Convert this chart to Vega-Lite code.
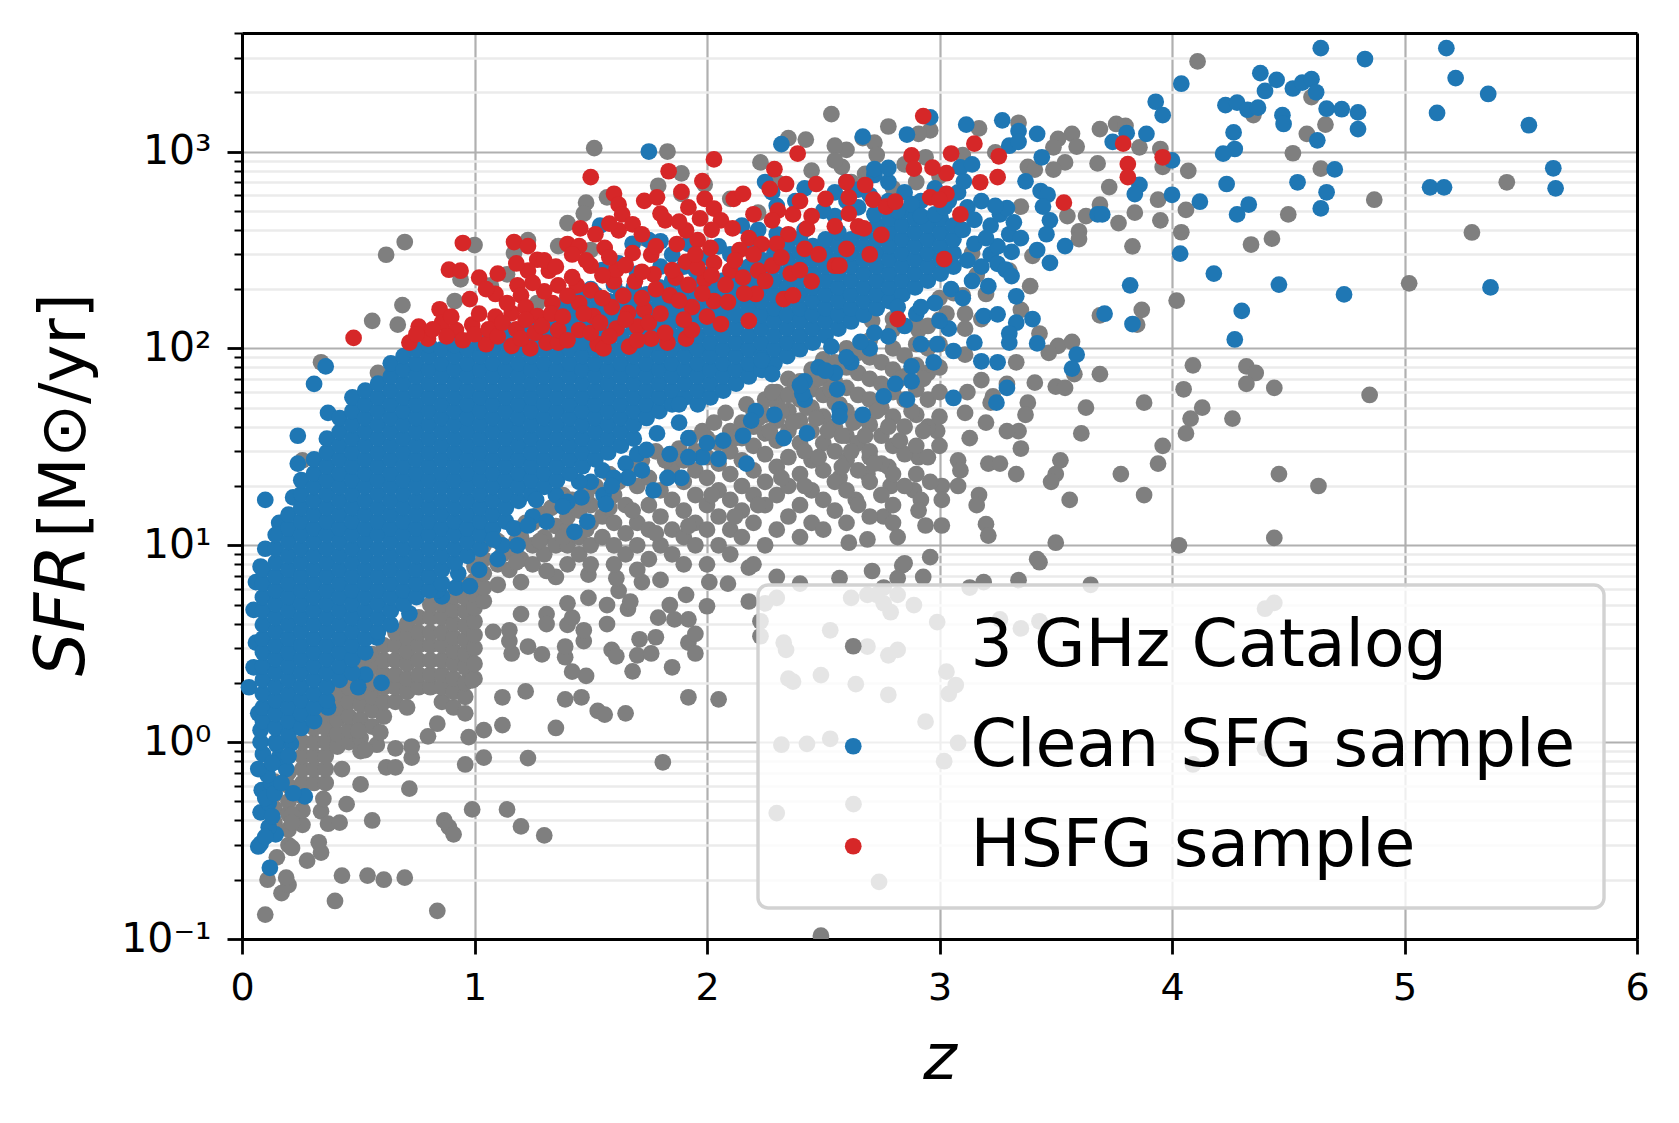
{"$schema":"https://vega.github.io/schema/vega-lite/v6.json","width":1395,"height":906,"padding":{"left":242,"top":33,"right":42,"bottom":184},"autosize":"none","background":"white","resolve":{"axis":{"y":"independent","x":"independent"}},"view":{"stroke":null},"config":{"font":"DejaVu Sans","legend":{"strokeWidth":3.4},"axis":{"labelFont":"DejaVu Sans","titleFont":"DejaVu Sans","labelColor":"#000","titleColor":"#000","tickColor":"#000","domain":false}},
"datasets":{"gray":[
{"z":0.14,"s":0.39},{"z":0.14,"s":0.46},{"z":0.14,"s":0.54},{"z":0.14,"s":0.63},{"z":0.2,"s":0.3},{"z":0.2,"s":0.36},{"z":0.2,"s":0.43},{"z":0.2,"s":0.5},{"z":0.2,"s":0.6},{"z":0.2,"s":0.7},{"z":0.2,"s":0.85},{"z":0.26,"s":0.38},{"z":0.26,"s":0.45},{"z":0.26,"s":0.53},{"z":0.26,"s":0.62},{"z":0.26,"s":0.73},{"z":0.26,"s":0.85},{"z":0.26,"s":1},{"z":0.31,"s":0.62},{"z":0.31,"s":0.73},{"z":0.31,"s":0.85},{"z":0.31,"s":1},{"z":0.31,"s":1.18},{"z":0.31,"s":1.39},{"z":0.36,"s":0.62},{"z":0.36,"s":0.73},{"z":0.36,"s":0.85},{"z":0.36,"s":1},{"z":0.36,"s":1.18},{"z":0.36,"s":1.39},{"z":0.36,"s":1.6},{"z":0.41,"s":0.95},{"z":0.41,"s":1.1},{"z":0.41,"s":1.3},{"z":0.41,"s":1.5},{"z":0.41,"s":1.75},{"z":0.46,"s":1},{"z":0.46,"s":1.15},{"z":0.46,"s":1.35},{"z":0.46,"s":1.6},{"z":0.46,"s":1.9},{"z":0.46,"s":2.2},{"z":0.51,"s":0.9},{"z":0.51,"s":1.05},{"z":0.51,"s":1.3},{"z":0.51,"s":1.55},{"z":0.51,"s":1.8},{"z":0.51,"s":2.1},{"z":0.51,"s":2.5},{"z":0.56,"s":1.2},{"z":0.56,"s":1.45},{"z":0.56,"s":1.7},{"z":0.56,"s":2},{"z":0.56,"s":2.4},{"z":0.56,"s":2.8},{"z":0.61,"s":1.35},{"z":0.61,"s":1.6},{"z":0.61,"s":1.9},{"z":0.61,"s":2.2},{"z":0.61,"s":2.6},{"z":0.61,"s":3.1},{"z":0.66,"s":1.6},{"z":0.66,"s":1.9},{"z":0.66,"s":2.2},{"z":0.66,"s":2.6},{"z":0.66,"s":3.1},{"z":0.66,"s":3.6},{"z":0.71,"s":1.5},{"z":0.71,"s":1.8},{"z":0.71,"s":2.1},{"z":0.71,"s":2.5},{"z":0.71,"s":2.9},{"z":0.71,"s":3.4},{"z":0.71,"s":4},{"z":0.76,"s":1.9},{"z":0.76,"s":2.2},{"z":0.76,"s":2.6},{"z":0.76,"s":3.1},{"z":0.76,"s":3.6},{"z":0.76,"s":4.3},{"z":0.81,"s":1.9},{"z":0.81,"s":2.2},{"z":0.81,"s":2.6},{"z":0.81,"s":3.1},{"z":0.81,"s":3.6},{"z":0.81,"s":4.3},{"z":0.81,"s":5},{"z":0.86,"s":1.6},{"z":0.86,"s":1.9},{"z":0.86,"s":2.2},{"z":0.86,"s":2.6},{"z":0.86,"s":3.1},{"z":0.86,"s":3.6},{"z":0.86,"s":4.3},{"z":0.86,"s":5},{"z":0.91,"s":1.5},{"z":0.91,"s":1.8},{"z":0.91,"s":2.1},{"z":0.91,"s":2.5},{"z":0.91,"s":2.9},{"z":0.91,"s":3.4},{"z":0.91,"s":4},{"z":0.91,"s":4.7},{"z":0.91,"s":5.5},{"z":0.96,"s":1.4},{"z":0.96,"s":1.7},{"z":0.96,"s":2},{"z":0.96,"s":2.4},{"z":0.96,"s":2.8},{"z":0.96,"s":3.3},{"z":0.96,"s":3.9},{"z":0.96,"s":4.6},{"z":0.96,"s":5.4},{"z":0.96,"s":6.3},{"z":1,"s":2.1},{"z":1,"s":2.5},{"z":1,"s":3},{"z":1,"s":3.5},{"z":1,"s":4.1},{"z":1,"s":4.8},{"z":1,"s":5.6},{"z":1,"s":6.6},{"z":1,"s":7.8},{"z":1.04,"s":5.2},{"z":1.04,"s":6.1},{"z":1.04,"s":7.2},{"z":1.04,"s":8.5},{"z":1.04,"s":10},
{"z":0.1,"s":0.133},{"z":0.17,"s":0.171},{"z":0.2,"s":0.188},{"z":0.11,"s":0.2},{"z":0.19,"s":0.205},{"z":0.28,"s":0.25},{"z":0.34,"s":0.275},{"z":0.33,"s":0.31},{"z":0.215,"s":0.29},{"z":0.15,"s":0.26},{"z":0.4,"s":0.156},{"z":0.43,"s":0.21},{"z":0.54,"s":0.21},{"z":0.61,"s":0.2},{"z":0.7,"s":0.205},{"z":0.84,"s":0.139},{"z":0.34,"s":0.445},{"z":0.35,"s":0.515},{"z":0.37,"s":0.385},{"z":0.42,"s":0.39},{"z":0.45,"s":0.484},{"z":0.56,"s":0.4},{"z":0.215,"s":0.427},{"z":0.215,"s":0.39},{"z":0.51,"s":0.61},{"z":0.72,"s":0.58},{"z":0.43,"s":0.73},{"z":0.62,"s":0.745},{"z":0.66,"s":0.745},{"z":0.73,"s":0.835},{"z":0.73,"s":0.95},{"z":0.66,"s":0.93},{"z":0.58,"s":0.97},{"z":0.53,"s":0.91},{"z":0.96,"s":0.77},{"z":1.04,"s":0.835},{"z":1.23,"s":0.83},{"z":1.81,"s":0.79},{"z":0.99,"s":0.455},{"z":1.14,"s":0.455},{"z":0.87,"s":0.4},{"z":0.89,"s":0.37},{"z":0.91,"s":0.34},{"z":1.2,"s":0.373},{"z":1.3,"s":0.336},{"z":1.35,"s":1.18},{"z":1.12,"s":1.22},{"z":1.04,"s":1.15},{"z":0.975,"s":1.06},{"z":0.84,"s":1.24},{"z":0.8,"s":1.07},{"z":0.595,"s":1.12},{"z":0.5,"s":1.14},{"z":1.12,"s":1.69},{"z":1.22,"s":1.81},{"z":1.39,"s":1.65},{"z":1.46,"s":1.69},{"z":1.53,"s":1.44},{"z":1.56,"s":1.38},{"z":1.65,"s":1.4},{"z":1.92,"s":1.69},{"z":2.05,"s":1.65},{"z":0.99,"s":2.06},{"z":1.85,"s":2.4},{"z":1.68,"s":2.29},{"z":1.48,"s":2.17},{"z":1.42,"s":2.28},{"z":1.29,"s":2.79},{"z":1.23,"s":3.06},{"z":1.16,"s":2.82},{"z":1.39,"s":2.7},{"z":1.39,"s":3.06},{"z":1.59,"s":2.94},{"z":1.61,"s":2.73},{"z":1.7,"s":2.76},{"z":1.76,"s":2.82},{"z":1.71,"s":3.33},{"z":1.78,"s":3.41},{"z":1.92,"s":3.2},{"z":1.95,"s":2.82},{"z":1.95,"s":3.55},{"z":1.08,"s":3.63},{"z":1.15,"s":3.26},{"z":1.15,"s":3.7},{"z":1.2,"s":4.47},{"z":1.31,"s":4.47},{"z":1.31,"s":3.98},{"z":1.4,"s":3.94},{"z":1.47,"s":3.26},{"z":1.47,"s":3.7},{"z":1.57,"s":3.98},{"z":1.42,"s":4.29},{"z":1.4,"s":5.07},{"z":1.49,"s":5.4},{"z":1.57,"s":4.97},{"z":1.66,"s":4.76},{"z":1.79,"s":4.29},{"z":1.86,"s":4.2},{"z":1.92,"s":4.2},{"z":1.84,"s":4.97},{"z":1.91,"s":5.6},{"z":2,"s":4.9},{"z":1.67,"s":5.18},{"z":1.62,"s":5.87},{"z":1.61,"s":6.8},{"z":1.72,"s":6.5},{"z":1.8,"s":6.67},{"z":1.35,"s":6.9},{"z":1.31,"s":7.4},{"z":1.49,"s":7.1},{"z":2.01,"s":6.5},{"z":2.09,"s":6.38},{"z":2.18,"s":7.7},{"z":2.3,"s":6.9},{"z":2.4,"s":6.38},{"z":2.18,"s":5.18},{"z":2.25,"s":5.07},{"z":2.23,"s":4.11},{"z":2.23,"s":3.45},{"z":2.33,"s":3.2},{"z":2.34,"s":2.94},{"z":2.53,"s":3.7},{"z":2.3,"s":5.4},{"z":2.35,"s":2.1},{"z":2.37,"s":2.03},{"z":2.49,"s":2.19},{"z":2.62,"s":5.4},{"z":2.69,"s":5.6},{"z":2.73,"s":5.6},{"z":2.76,"s":5.07},{"z":2.79,"s":4.57},{"z":2.82,"s":5.6},{"z":2.89,"s":4.97},{"z":2.69,"s":3.06},{"z":2.78,"s":2.76},{"z":2.82,"s":2.94},{"z":2.64,"s":1.97},{"z":2.78,"s":1.74},{"z":3.03,"s":2.28},{"z":3.07,"s":1.95},{"z":3.04,"s":1.76},{"z":2.99,"s":4.07},{"z":3.26,"s":4.2},{"z":3.35,"s":3.78},{"z":3.43,"s":4.11},{"z":2.94,"s":1.27},{"z":2.32,"s":0.97},{"z":2.43,"s":0.98},{"z":2.53,"s":1.04},{"z":3.08,"s":0.99},{"z":3.02,"s":0.8},{"z":4.4,"s":0.93},{"z":4.09,"s":0.77},{"z":2.3,"s":0.436},{"z":2.63,"s":0.484},{"z":2.74,"s":0.195},{"z":2.49,"s":0.104},{"z":4.4,"s":4.76},{"z":4.44,"s":5.1},{"z":2.57,"s":6.8},{"z":2.71,"s":7.4},{"z":2.84,"s":7.9},{"z":2.93,"s":6.9},{"z":2.82,"s":6.8},{"z":3.13,"s":6.1},{"z":3.19,"s":6.5},{"z":3.34,"s":6.65},{"z":3.65,"s":6.3},{"z":2.76,"s":6.1},{"z":3.43,"s":8.2},
{"z":4.11,"s":2870},{"z":4.66,"s":1370},{"z":4.58,"s":1230},{"z":4.6,"s":1890},{"z":4.35,"s":1530},{"z":4.52,"s":980},{"z":4.64,"s":818},{"z":5.44,"s":698},{"z":4.87,"s":569},{"z":4.5,"s":479},{"z":5.29,"s":388},{"z":4.43,"s":361},{"z":4.34,"s":337},{"z":5.02,"s":214},{"z":4.02,"s":175},{"z":4.04,"s":389},{"z":3.83,"s":330},{"z":3.95,"s":447},{"z":3.77,"s":433},{"z":3.84,"s":489},{"z":3.94,"s":569},{"z":4.06,"s":505},{"z":4.07,"s":798},{"z":3.96,"s":835},{"z":3.95,"s":1030},{"z":3.86,"s":1050},{"z":3.73,"s":660},{"z":3.69,"s":537},{"z":3.68,"s":870},{"z":3.69,"s":1300},{"z":3.76,"s":1380},{"z":3.8,"s":1350},{"z":3.57,"s":1230},{"z":3.51,"s":1160},{"z":3.49,"s":1050},{"z":3.59,"s":1060},{"z":3.54,"s":880},{"z":3.49,"s":810},{"z":3.38,"s":835},{"z":3.41,"s":810},{"z":3.34,"s":1400},{"z":3.17,"s":1310},{"z":2.96,"s":1280},{"z":2.78,"s":1340},{"z":2.91,"s":1230},{"z":2.72,"s":1110},{"z":2.67,"s":1170},{"z":2.6,"s":1020},{"z":2.58,"s":835},{"z":2.73,"s":960},{"z":2.94,"s":935},{"z":3.1,"s":960},{"z":3.24,"s":990},{"z":2.85,"s":860},{"z":2.68,"s":770},{"z":3.35,"s":525},{"z":3.55,"s":470},{"z":3.63,"s":470},{"z":3.6,"s":393},{"z":3.6,"s":359},{"z":3.4,"s":295},{"z":3.39,"s":207},{"z":3.1,"s":186},{"z":3.06,"s":191},{"z":3.2,"s":189},{"z":3.3,"s":248},{"z":3.16,"s":236},{"z":3.14,"s":305},{"z":3.87,"s":157},{"z":3.69,"s":147},{"z":3.85,"s":132},{"z":3.43,"s":119},{"z":3.35,"s":157},{"z":3.03,"s":150},{"z":3.11,"s":150},{"z":3.18,"s":141},{"z":3.11,"s":126},{"z":2.91,"s":124},{"z":2.8,"s":141},{"z":2.71,"s":138},{"z":3.51,"s":103},{"z":3.47,"s":95},{"z":3.57,"s":108},{"z":3.11,"s":93},{"z":3.33,"s":85},{"z":4.09,"s":82},{"z":4.32,"s":81},{"z":4.36,"s":75},{"z":4.32,"s":66},{"z":4.44,"s":63},{"z":4.85,"s":58},{"z":4.05,"s":62},{"z":3.69,"s":74},{"z":3.58,"s":74},{"z":3.41,"s":67},{"z":3.5,"s":64},{"z":3.54,"s":63},{"z":3.18,"s":69},{"z":3.29,"s":66},{"z":3.12,"s":60},{"z":3.23,"s":57},{"z":3.22,"s":53},{"z":3.38,"s":53},{"z":3.37,"s":46},{"z":3.63,"s":50},{"z":3.88,"s":53},{"z":4.13,"s":50},{"z":4.08,"s":44},{"z":4.26,"s":44},{"z":4.06,"s":37},{"z":3.61,"s":37},{"z":3.34,"s":38},{"z":3.29,"s":38},{"z":3.2,"s":42},{"z":3.11,"s":47},{"z":2.99,"s":38},{"z":3.13,"s":35},{"z":3.35,"s":31},{"z":3.96,"s":32},{"z":3.94,"s":26},{"z":3.52,"s":27},{"z":3.21,"s":26},{"z":3.26,"s":26},{"z":3.08,"s":27},{"z":3.09,"s":24},{"z":2.91,"s":28},{"z":2.7,"s":28},{"z":2.78,"s":25},{"z":2.79,"s":20},{"z":2.57,"s":22},{"z":2.69,"s":23},{"z":3.33,"s":23},{"z":3.78,"s":23},{"z":3.5,"s":23},{"z":3.48,"s":21},{"z":4.46,"s":23},{"z":4.63,"s":20},{"z":3.88,"s":18},{"z":3.56,"s":17},{"z":3.17,"s":18},{"z":3.16,"s":16},{"z":3.08,"s":20},{"z":3.01,"s":20},{"z":2.96,"s":21},{"z":2.89,"s":19},{"z":2.92,"s":17},{"z":2.91,"s":15},{"z":3.01,"s":17},{"z":2.64,"s":17},{"z":2.76,"s":14},{"z":2.8,"s":13},{"z":2.94,"s":12.6},{"z":3.01,"s":12.6},{"z":3.2,"s":12.8},{"z":3.21,"s":11.2},{"z":2.82,"s":11},{"z":2.69,"s":10.7},{"z":2.61,"s":10.3},{"z":3.5,"s":10.3},{"z":4.03,"s":10},{"z":4.44,"s":10.9},{"z":2.96,"s":8.7},{"z":3.42,"s":8.5},{"z":2.85,"s":8.1},
{"z":1.1,"s":6.3},{"z":1.1,"s":8},{"z":1.1,"s":10.5},{"z":1.15,"s":7.5},{"z":1.15,"s":9.5},{"z":1.2,"s":6.5},{"z":1.2,"s":8.5},{"z":1.2,"s":11},{"z":1.25,"s":8},{"z":1.25,"s":10},{"z":1.25,"s":13},{"z":1.3,"s":9},{"z":1.3,"s":11},{"z":1.35,"s":10},{"z":1.35,"s":12.5},{"z":1.4,"s":8},{"z":1.4,"s":10},{"z":1.4,"s":12},{"z":1.4,"s":14},{"z":1.45,"s":9},{"z":1.45,"s":11},{"z":1.45,"s":15},{"z":1.5,"s":8},{"z":1.5,"s":10},{"z":1.5,"s":13},{"z":1.5,"s":16},{"z":1.55,"s":11},{"z":1.55,"s":14},{"z":1.6,"s":8},{"z":1.6,"s":10},{"z":1.6,"s":13},{"z":1.6,"s":18},{"z":1.65,"s":9},{"z":1.65,"s":11.5},{"z":1.65,"s":16},{"z":1.7,"s":7.5},{"z":1.7,"s":10},{"z":1.7,"s":13},{"z":1.7,"s":20},{"z":1.75,"s":8.5},{"z":1.75,"s":12},{"z":1.75,"s":16},{"z":1.75,"s":22},{"z":1.8,"s":10},{"z":1.8,"s":14},{"z":1.8,"s":19},{"z":1.85,"s":9},{"z":1.85,"s":12},{"z":1.85,"s":17},{"z":1.85,"s":25},{"z":1.9,"s":8},{"z":1.9,"s":11},{"z":1.9,"s":15},{"z":1.9,"s":21},{"z":1.9,"s":27},{"z":1.95,"s":10},{"z":1.95,"s":13},{"z":1.95,"s":18},{"z":1.95,"s":24},{"z":1.95,"s":30},{"z":2,"s":8},{"z":2,"s":12},{"z":2,"s":16},{"z":2,"s":22},{"z":2,"s":28},{"z":2,"s":35},{"z":2.05,"s":10},{"z":2.05,"s":14},{"z":2.05,"s":19},{"z":2.05,"s":26},{"z":2.05,"s":33},{"z":2.1,"s":9},{"z":2.1,"s":12},{"z":2.1,"s":17},{"z":2.1,"s":23},{"z":2.1,"s":30},{"z":2.1,"s":38},{"z":2.15,"s":11},{"z":2.15,"s":15},{"z":2.15,"s":20},{"z":2.15,"s":27},{"z":2.15,"s":35},{"z":2.15,"s":42},{"z":2.2,"s":8},{"z":2.2,"s":13},{"z":2.2,"s":18},{"z":2.2,"s":24},{"z":2.2,"s":32},{"z":2.2,"s":40},{"z":2.2,"s":48},{"z":2.25,"s":10},{"z":2.25,"s":16},{"z":2.25,"s":21},{"z":2.25,"s":29},{"z":2.25,"s":37},{"z":2.25,"s":46},{"z":2.25,"s":55},{"z":2.3,"s":12},{"z":2.3,"s":18},{"z":2.3,"s":25},{"z":2.3,"s":34},{"z":2.3,"s":43},{"z":2.3,"s":53},{"z":2.3,"s":60},{"z":2.35,"s":14},{"z":2.35,"s":20},{"z":2.35,"s":28},{"z":2.35,"s":38},{"z":2.35,"s":48},{"z":2.35,"s":58},{"z":2.35,"s":70},{"z":2.4,"s":11},{"z":2.4,"s":16},{"z":2.4,"s":23},{"z":2.4,"s":33},{"z":2.4,"s":43},{"z":2.4,"s":55},{"z":2.4,"s":68},{"z":2.45,"s":13},{"z":2.45,"s":19},{"z":2.45,"s":27},{"z":2.45,"s":38},{"z":2.45,"s":50},{"z":2.45,"s":62},{"z":2.45,"s":78},{"z":2.5,"s":12},{"z":2.5,"s":17},{"z":2.5,"s":24},{"z":2.5,"s":33},{"z":2.5,"s":45},{"z":2.5,"s":58},{"z":2.5,"s":72},{"z":2.5,"s":88},{"z":2.55,"s":15},{"z":2.55,"s":21},{"z":2.55,"s":30},{"z":2.55,"s":40},{"z":2.55,"s":53},{"z":2.55,"s":68},{"z":2.55,"s":85},{"z":2.6,"s":13},{"z":2.6,"s":19},{"z":2.6,"s":27},{"z":2.6,"s":36},{"z":2.6,"s":48},{"z":2.6,"s":63},{"z":2.6,"s":80},{"z":2.6,"s":100},{"z":2.65,"s":16},{"z":2.65,"s":24},{"z":2.65,"s":33},{"z":2.65,"s":44},{"z":2.65,"s":58},{"z":2.65,"s":75},{"z":2.65,"s":95},{"z":2.7,"s":14},{"z":2.7,"s":21},{"z":2.7,"s":30},{"z":2.7,"s":41},{"z":2.7,"s":55},{"z":2.7,"s":70},{"z":2.7,"s":90},{"z":2.7,"s":110},{"z":2.75,"s":18},{"z":2.75,"s":26},{"z":2.75,"s":36},{"z":2.75,"s":50},{"z":2.75,"s":66},{"z":2.75,"s":85},{"z":2.8,"s":16},{"z":2.8,"s":23},{"z":2.8,"s":32},{"z":2.8,"s":45},{"z":2.8,"s":60},{"z":2.8,"s":78},{"z":2.8,"s":100},{"z":2.8,"s":125},{"z":2.85,"s":20},{"z":2.85,"s":29},{"z":2.85,"s":40},{"z":2.85,"s":55},{"z":2.85,"s":72},{"z":2.85,"s":92},{"z":2.9,"s":23},{"z":2.9,"s":32},{"z":2.9,"s":46},{"z":2.9,"s":62},{"z":2.9,"s":82},{"z":2.9,"s":105},{"z":2.9,"s":135},{"z":2.95,"s":28},{"z":2.95,"s":40},{"z":2.95,"s":55},{"z":2.95,"s":75},{"z":2.95,"s":100},{"z":2.95,"s":130},{"z":3,"s":32},{"z":3,"s":45},{"z":3,"s":60},{"z":3,"s":80},{"z":3,"s":105},{"z":3,"s":140},{"z":3,"s":180},
{"z":1.08,"s":11},{"z":1.12,"s":9},{"z":1.18,"s":10.5},{"z":1.22,"s":13},{"z":1.28,"s":14.5},{"z":1.33,"s":15.5},{"z":1.38,"s":18},{"z":1.42,"s":17},{"z":1.48,"s":18},{"z":1.52,"s":20},{"z":1.58,"s":23},{"z":1.62,"s":21},{"z":1.68,"s":25},{"z":1.72,"s":27},{"z":1.78,"s":30},{"z":1.82,"s":27},{"z":1.88,"s":31},{"z":1.93,"s":35},{"z":1.98,"s":38},{"z":2.03,"s":42},{"z":2.08,"s":47},{"z":2.12,"s":35},{"z":2.17,"s":52},{"z":2.22,"s":44},{"z":2.27,"s":38},{"z":2.28,"s":60},{"z":2.32,"s":48},{"z":2.37,"s":42},{"z":2.38,"s":66},{"z":2.42,"s":30},{"z":2.43,"s":50},{"z":2.47,"s":44},{"z":2.48,"s":70},{"z":2.52,"s":38},{"z":2.53,"s":62},{"z":2.57,"s":52},{"z":2.58,"s":36},{"z":2.62,"s":30},{"z":2.63,"s":42},{"z":2.68,"s":36},{"z":2.72,"s":26},{"z":2.73,"s":48},{"z":2.78,"s":40},{"z":2.83,"s":34},{"z":2.83,"s":70},{"z":2.88,"s":48},{"z":2.93,"s":38},{"z":2.93,"s":70},{"z":2.12,"s":14},{"z":2.22,"s":16},{"z":2.32,"s":22},{"z":2.42,"s":20},{"z":2.48,"s":28},{"z":2.58,"s":25},{"z":1.92,"s":12.5},{"z":2.02,"s":18},{"z":1.78,"s":11.5},{"z":1.68,"s":15},{"z":1.58,"s":15.5},{"z":1.48,"s":12},{"z":1.38,"s":11},{"z":1.28,"s":10.5},{"z":1.18,"s":8.2},
{"z":0.62,"s":299},{"z":0.7,"s":347},{"z":1,"s":335},{"z":1.23,"s":355},{"z":1.17,"s":305},{"z":1.515,"s":1040},{"z":1.83,"s":1000},{"z":1.89,"s":775},{"z":1.79,"s":670},{"z":1.57,"s":585},{"z":1.48,"s":550},{"z":1.47,"s":484},{"z":1.4,"s":433},{"z":1.89,"s":610},{"z":1.99,"s":680},{"z":2.35,"s":1170},{"z":2.425,"s":1150},{"z":2.23,"s":880},{"z":2.535,"s":1550},{"z":2.55,"s":1070},{"z":0.69,"s":166},{"z":0.56,"s":138},{"z":0.67,"s":132},{"z":0.915,"s":174},{"z":0.34,"s":85},{"z":0.585,"s":75},{"z":0.26,"s":27},{"z":1.14,"s":238},{"z":0.94,"s":224},{"z":1.07,"s":209},{"z":1.27,"s":170},{"z":1.5,"s":316},{"z":1.36,"s":331},{"z":1.73,"s":363},{"z":2.1,"s":575},{"z":2.22,"s":489},{"z":2.3,"s":700},{"z":2.45,"s":800},{"z":2.55,"s":900},{"z":2.62,"s":700},{"z":2.7,"s":750},{"z":2.8,"s":650},{"z":2.9,"s":700},{"z":3,"s":750}
],"blue":[
{"z":0.07,"s":0.295},{"z":0.08,"s":0.305},{"z":0.12,"s":0.23},{"z":0.145,"s":0.34},{"z":0.115,"s":0.37},{"z":0.08,"s":0.44},{"z":0.115,"s":0.49},{"z":0.085,"s":0.57},{"z":0.27,"s":0.53},{"z":0.22,"s":0.55},{"z":0.125,"s":0.62},{"z":0.19,"s":0.73},{"z":0.16,"s":0.84},{"z":0.09,"s":0.87},{"z":0.08,"s":1},{"z":0.21,"s":0.98},{"z":0.15,"s":0.97},{"z":0.08,"s":1.15},{"z":0.22,"s":1.25},{"z":0.03,"s":1.9},{"z":0.37,"s":1.5},{"z":0.6,"s":2},{"z":0.53,"s":2.2},{"z":0.5,"s":1.9},{"z":0.44,"s":2.7},{"z":0.58,"s":3.4},{"z":0.72,"s":4.5},{"z":0.86,"s":5.5},{"z":0.92,"s":6.1},{"z":0.93,"s":7.2},{"z":0.84,"s":5.9},{"z":0.1,"s":17},{"z":0.1,"s":9.6},{"z":0.16,"s":13},{"z":0.22,"s":17.5},{"z":0.24,"s":26},{"z":0.24,"s":36},{"z":0.37,"s":47},{"z":0.31,"s":66},{"z":0.36,"s":81},{"z":0.1,"s":0.33},{"z":0.13,"s":0.42},{"z":0.1,"s":0.52},{"z":0.14,"s":0.55},{"z":0.11,"s":0.68},{"z":0.07,"s":0.73},{"z":0.13,"s":0.78},{"z":0.17,"s":0.62},{"z":0.2,"s":0.85},{"z":0.07,"s":1.4},{"z":0.05,"s":2.4},{"z":0.06,"s":3.2},{"z":0.05,"s":4.7},{"z":0.06,"s":6.5},{"z":0.08,"s":7.8},{"z":0.98,"s":6.2},{"z":1.02,"s":7.5},{"z":1.1,"s":8.5},{"z":1.12,"s":10},{"z":1.25,"s":14},{"z":1.35,"s":18},{"z":1.5,"s":21},{"z":1.55,"s":24},{"z":1.65,"s":26},{"z":1.7,"s":29},{"z":1.72,"s":24},{"z":1.45,"s":21},
{"z":0.09,"s":1.28},{"z":0.09,"s":1.5},{"z":0.09,"s":1.76},{"z":0.09,"s":2.07},{"z":0.09,"s":2.43},{"z":0.09,"s":2.86},{"z":0.09,"s":3.36},{"z":0.09,"s":3.95},{"z":0.09,"s":4.64},{"z":0.09,"s":5.45},{"z":0.09,"s":6.4},{"z":0.09,"s":7.52},
{"z":0.145,"s":1},{"z":0.145,"s":1.18},{"z":0.145,"s":1.39},{"z":0.145,"s":1.63},{"z":0.145,"s":1.91},{"z":0.145,"s":2.25},{"z":0.145,"s":2.64},{"z":0.145,"s":3.1},{"z":0.145,"s":3.64},{"z":0.145,"s":4.28},{"z":0.145,"s":5.03},{"z":0.145,"s":5.9},{"z":0.145,"s":6.94},{"z":0.145,"s":8.15},{"z":0.145,"s":9.58},{"z":0.145,"s":11.3},
{"z":0.2,"s":1.09},{"z":0.2,"s":1.28},{"z":0.2,"s":1.5},{"z":0.2,"s":1.76},{"z":0.2,"s":2.07},{"z":0.2,"s":2.43},{"z":0.2,"s":2.86},{"z":0.2,"s":3.36},{"z":0.2,"s":3.95},{"z":0.2,"s":4.64},{"z":0.2,"s":5.45},{"z":0.2,"s":6.4},{"z":0.2,"s":7.52},{"z":0.2,"s":8.84},{"z":0.2,"s":10.4},{"z":0.2,"s":12.2},{"z":0.2,"s":14.3},
{"z":0.255,"s":1.18},{"z":0.255,"s":1.39},{"z":0.255,"s":1.63},{"z":0.255,"s":1.91},{"z":0.255,"s":2.25},{"z":0.255,"s":2.64},{"z":0.255,"s":3.1},{"z":0.255,"s":3.64},{"z":0.255,"s":4.28},{"z":0.255,"s":5.03},{"z":0.255,"s":5.9},{"z":0.255,"s":6.94},{"z":0.255,"s":8.15},{"z":0.255,"s":9.58},{"z":0.255,"s":11.3},{"z":0.255,"s":13.2},{"z":0.255,"s":15.5},{"z":0.255,"s":18.2},{"z":0.255,"s":21.4},
{"z":0.31,"s":1.28},{"z":0.31,"s":1.5},{"z":0.31,"s":1.76},{"z":0.31,"s":2.07},{"z":0.31,"s":2.43},{"z":0.31,"s":2.86},{"z":0.31,"s":3.36},{"z":0.31,"s":3.95},{"z":0.31,"s":4.64},{"z":0.31,"s":5.45},{"z":0.31,"s":6.4},{"z":0.31,"s":7.52},{"z":0.31,"s":8.84},{"z":0.31,"s":10.4},{"z":0.31,"s":12.2},{"z":0.31,"s":14.3},{"z":0.31,"s":16.8},{"z":0.31,"s":19.8},{"z":0.31,"s":23.2},{"z":0.31,"s":27.3},
{"z":0.365,"s":1.63},{"z":0.365,"s":1.91},{"z":0.365,"s":2.25},{"z":0.365,"s":2.64},{"z":0.365,"s":3.1},{"z":0.365,"s":3.64},{"z":0.365,"s":4.28},{"z":0.365,"s":5.03},{"z":0.365,"s":5.9},{"z":0.365,"s":6.94},{"z":0.365,"s":8.15},{"z":0.365,"s":9.58},{"z":0.365,"s":11.3},{"z":0.365,"s":13.2},{"z":0.365,"s":15.5},{"z":0.365,"s":18.2},{"z":0.365,"s":21.4},{"z":0.365,"s":25.2},{"z":0.365,"s":29.6},{"z":0.365,"s":34.8},
{"z":0.42,"s":2.07},{"z":0.42,"s":2.43},{"z":0.42,"s":2.86},{"z":0.42,"s":3.36},{"z":0.42,"s":3.95},{"z":0.42,"s":4.64},{"z":0.42,"s":5.45},{"z":0.42,"s":6.4},{"z":0.42,"s":7.52},{"z":0.42,"s":8.84},{"z":0.42,"s":10.4},{"z":0.42,"s":12.2},{"z":0.42,"s":14.3},{"z":0.42,"s":16.8},{"z":0.42,"s":19.8},{"z":0.42,"s":23.2},{"z":0.42,"s":27.3},{"z":0.42,"s":32.1},{"z":0.42,"s":37.7},{"z":0.42,"s":44.3},
{"z":0.475,"s":2.25},{"z":0.475,"s":2.64},{"z":0.475,"s":3.1},{"z":0.475,"s":3.64},{"z":0.475,"s":4.28},{"z":0.475,"s":5.03},{"z":0.475,"s":5.9},{"z":0.475,"s":6.94},{"z":0.475,"s":8.15},{"z":0.475,"s":9.58},{"z":0.475,"s":11.3},{"z":0.475,"s":13.2},{"z":0.475,"s":15.5},{"z":0.475,"s":18.2},{"z":0.475,"s":21.4},{"z":0.475,"s":25.2},{"z":0.475,"s":29.6},{"z":0.475,"s":34.8},{"z":0.475,"s":40.9},{"z":0.475,"s":48},{"z":0.475,"s":56.4},
{"z":0.53,"s":2.86},{"z":0.53,"s":3.36},{"z":0.53,"s":3.95},{"z":0.53,"s":4.64},{"z":0.53,"s":5.45},{"z":0.53,"s":6.4},{"z":0.53,"s":7.52},{"z":0.53,"s":8.84},{"z":0.53,"s":10.4},{"z":0.53,"s":12.2},{"z":0.53,"s":14.3},{"z":0.53,"s":16.8},{"z":0.53,"s":19.8},{"z":0.53,"s":23.2},{"z":0.53,"s":27.3},{"z":0.53,"s":32.1},{"z":0.53,"s":37.7},{"z":0.53,"s":44.3},{"z":0.53,"s":52},{"z":0.53,"s":61},
{"z":0.585,"s":3.64},{"z":0.585,"s":4.28},{"z":0.585,"s":5.03},{"z":0.585,"s":5.9},{"z":0.585,"s":6.94},{"z":0.585,"s":8.15},{"z":0.585,"s":9.58},{"z":0.585,"s":11.3},{"z":0.585,"s":13.2},{"z":0.585,"s":15.5},{"z":0.585,"s":18.2},{"z":0.585,"s":21.4},{"z":0.585,"s":25.2},{"z":0.585,"s":29.6},{"z":0.585,"s":34.8},{"z":0.585,"s":40.9},{"z":0.585,"s":48},{"z":0.585,"s":56.4},{"z":0.585,"s":66.2},
{"z":0.64,"s":3.95},{"z":0.64,"s":4.64},{"z":0.64,"s":5.45},{"z":0.64,"s":6.4},{"z":0.64,"s":7.52},{"z":0.64,"s":8.84},{"z":0.64,"s":10.4},{"z":0.64,"s":12.2},{"z":0.64,"s":14.3},{"z":0.64,"s":16.8},{"z":0.64,"s":19.8},{"z":0.64,"s":23.2},{"z":0.64,"s":27.3},{"z":0.64,"s":32.1},{"z":0.64,"s":37.7},{"z":0.64,"s":44.3},{"z":0.64,"s":52},{"z":0.64,"s":61},{"z":0.64,"s":72},{"z":0.64,"s":84},
{"z":0.695,"s":5.03},{"z":0.695,"s":5.9},{"z":0.695,"s":6.94},{"z":0.695,"s":8.15},{"z":0.695,"s":9.58},{"z":0.695,"s":11.3},{"z":0.695,"s":13.2},{"z":0.695,"s":15.5},{"z":0.695,"s":18.2},{"z":0.695,"s":21.4},{"z":0.695,"s":25.2},{"z":0.695,"s":29.6},{"z":0.695,"s":34.8},{"z":0.695,"s":40.9},{"z":0.695,"s":48},{"z":0.695,"s":56.4},{"z":0.695,"s":66.2},{"z":0.695,"s":77.8},{"z":0.695,"s":91.3},
{"z":0.75,"s":5.45},{"z":0.75,"s":6.4},{"z":0.75,"s":7.52},{"z":0.75,"s":8.84},{"z":0.75,"s":10.4},{"z":0.75,"s":12.2},{"z":0.75,"s":14.3},{"z":0.75,"s":16.8},{"z":0.75,"s":19.8},{"z":0.75,"s":23.2},{"z":0.75,"s":27.3},{"z":0.75,"s":32.1},{"z":0.75,"s":37.7},{"z":0.75,"s":44.3},{"z":0.75,"s":52},{"z":0.75,"s":61},{"z":0.75,"s":72},{"z":0.75,"s":84},{"z":0.75,"s":99},
{"z":0.805,"s":5.9},{"z":0.805,"s":6.94},{"z":0.805,"s":8.15},{"z":0.805,"s":9.58},{"z":0.805,"s":11.3},{"z":0.805,"s":13.2},{"z":0.805,"s":15.5},{"z":0.805,"s":18.2},{"z":0.805,"s":21.4},{"z":0.805,"s":25.2},{"z":0.805,"s":29.6},{"z":0.805,"s":34.8},{"z":0.805,"s":40.9},{"z":0.805,"s":48},{"z":0.805,"s":56.4},{"z":0.805,"s":66.2},{"z":0.805,"s":77.8},{"z":0.805,"s":91.3},{"z":0.805,"s":104},
{"z":0.86,"s":6.4},{"z":0.86,"s":7.52},{"z":0.86,"s":8.84},{"z":0.86,"s":10.4},{"z":0.86,"s":12.2},{"z":0.86,"s":14.3},{"z":0.86,"s":16.8},{"z":0.86,"s":19.8},{"z":0.86,"s":23.2},{"z":0.86,"s":27.3},{"z":0.86,"s":32.1},{"z":0.86,"s":37.7},{"z":0.86,"s":44.3},{"z":0.86,"s":52},{"z":0.86,"s":61},{"z":0.86,"s":72},{"z":0.86,"s":84},{"z":0.86,"s":99},
{"z":0.915,"s":8.15},{"z":0.915,"s":9.58},{"z":0.915,"s":11.3},{"z":0.915,"s":13.2},{"z":0.915,"s":15.5},{"z":0.915,"s":18.2},{"z":0.915,"s":21.4},{"z":0.915,"s":25.2},{"z":0.915,"s":29.6},{"z":0.915,"s":34.8},{"z":0.915,"s":40.9},{"z":0.915,"s":48},{"z":0.915,"s":56.4},{"z":0.915,"s":66.2},{"z":0.915,"s":77.8},{"z":0.915,"s":91.3},{"z":0.915,"s":104},
{"z":0.97,"s":8.84},{"z":0.97,"s":10.4},{"z":0.97,"s":12.2},{"z":0.97,"s":14.3},{"z":0.97,"s":16.8},{"z":0.97,"s":19.8},{"z":0.97,"s":23.2},{"z":0.97,"s":27.3},{"z":0.97,"s":32.1},{"z":0.97,"s":37.7},{"z":0.97,"s":44.3},{"z":0.97,"s":52},{"z":0.97,"s":61},{"z":0.97,"s":72},{"z":0.97,"s":84},{"z":0.97,"s":99},
{"z":1.025,"s":9.58},{"z":1.025,"s":11.3},{"z":1.025,"s":13.2},{"z":1.025,"s":15.5},{"z":1.025,"s":18.2},{"z":1.025,"s":21.4},{"z":1.025,"s":25.2},{"z":1.025,"s":29.6},{"z":1.025,"s":34.8},{"z":1.025,"s":40.9},{"z":1.025,"s":48},{"z":1.025,"s":56.4},{"z":1.025,"s":66.2},{"z":1.025,"s":77.8},{"z":1.025,"s":91.3},{"z":1.025,"s":107},
{"z":1.08,"s":12.2},{"z":1.08,"s":14.3},{"z":1.08,"s":16.8},{"z":1.08,"s":19.8},{"z":1.08,"s":23.2},{"z":1.08,"s":27.3},{"z":1.08,"s":32.1},{"z":1.08,"s":37.7},{"z":1.08,"s":44.3},{"z":1.08,"s":52},{"z":1.08,"s":61},{"z":1.08,"s":72},{"z":1.08,"s":84},{"z":1.08,"s":99},{"z":1.08,"s":116},
{"z":1.135,"s":13.2},{"z":1.135,"s":15.5},{"z":1.135,"s":18.2},{"z":1.135,"s":21.4},{"z":1.135,"s":25.2},{"z":1.135,"s":29.6},{"z":1.135,"s":34.8},{"z":1.135,"s":40.9},{"z":1.135,"s":48},{"z":1.135,"s":56.4},{"z":1.135,"s":66.2},{"z":1.135,"s":77.8},{"z":1.135,"s":91.3},{"z":1.135,"s":107},{"z":1.135,"s":126},
{"z":1.19,"s":16.8},{"z":1.19,"s":19.8},{"z":1.19,"s":23.2},{"z":1.19,"s":27.3},{"z":1.19,"s":32.1},{"z":1.19,"s":37.7},{"z":1.19,"s":44.3},{"z":1.19,"s":52},{"z":1.19,"s":61},{"z":1.19,"s":72},{"z":1.19,"s":84},{"z":1.19,"s":99},{"z":1.19,"s":116},
{"z":1.245,"s":18.2},{"z":1.245,"s":21.4},{"z":1.245,"s":25.2},{"z":1.245,"s":29.6},{"z":1.245,"s":34.8},{"z":1.245,"s":40.9},{"z":1.245,"s":48},{"z":1.245,"s":56.4},{"z":1.245,"s":66.2},{"z":1.245,"s":77.8},{"z":1.245,"s":91.3},{"z":1.245,"s":107},{"z":1.245,"s":126},
{"z":1.3,"s":19.8},{"z":1.3,"s":23.2},{"z":1.3,"s":27.3},{"z":1.3,"s":32.1},{"z":1.3,"s":37.7},{"z":1.3,"s":44.3},{"z":1.3,"s":52},{"z":1.3,"s":61},{"z":1.3,"s":72},{"z":1.3,"s":84},{"z":1.3,"s":99},{"z":1.3,"s":116},{"z":1.3,"s":137},
{"z":1.355,"s":21.4},{"z":1.355,"s":25.2},{"z":1.355,"s":29.6},{"z":1.355,"s":34.8},{"z":1.355,"s":40.9},{"z":1.355,"s":48},{"z":1.355,"s":56.4},{"z":1.355,"s":66.2},{"z":1.355,"s":77.8},{"z":1.355,"s":91.3},{"z":1.355,"s":107},{"z":1.355,"s":126},{"z":1.355,"s":148},
{"z":1.41,"s":23.2},{"z":1.41,"s":27.3},{"z":1.41,"s":32.1},{"z":1.41,"s":37.7},{"z":1.41,"s":44.3},{"z":1.41,"s":52},{"z":1.41,"s":61},{"z":1.41,"s":72},{"z":1.41,"s":84},{"z":1.41,"s":99},{"z":1.41,"s":116},{"z":1.41,"s":137},{"z":1.41,"s":160},
{"z":1.465,"s":25.2},{"z":1.465,"s":29.6},{"z":1.465,"s":34.8},{"z":1.465,"s":40.9},{"z":1.465,"s":48},{"z":1.465,"s":56.4},{"z":1.465,"s":66.2},{"z":1.465,"s":77.8},{"z":1.465,"s":91.3},{"z":1.465,"s":107},{"z":1.465,"s":126},{"z":1.465,"s":148},{"z":1.465,"s":174},
{"z":1.52,"s":27.3},{"z":1.52,"s":32.1},{"z":1.52,"s":37.7},{"z":1.52,"s":44.3},{"z":1.52,"s":52},{"z":1.52,"s":61},{"z":1.52,"s":72},{"z":1.52,"s":84},{"z":1.52,"s":99},{"z":1.52,"s":116},{"z":1.52,"s":137},{"z":1.52,"s":160},{"z":1.52,"s":188},
{"z":1.575,"s":29.6},{"z":1.575,"s":34.8},{"z":1.575,"s":40.9},{"z":1.575,"s":48},{"z":1.575,"s":56.4},{"z":1.575,"s":66.2},{"z":1.575,"s":77.8},{"z":1.575,"s":91.3},{"z":1.575,"s":107},{"z":1.575,"s":126},{"z":1.575,"s":148},{"z":1.575,"s":174},
{"z":1.63,"s":32.1},{"z":1.63,"s":37.7},{"z":1.63,"s":44.3},{"z":1.63,"s":52},{"z":1.63,"s":61},{"z":1.63,"s":72},{"z":1.63,"s":84},{"z":1.63,"s":99},{"z":1.63,"s":116},{"z":1.63,"s":137},{"z":1.63,"s":160},{"z":1.63,"s":188},
{"z":1.685,"s":34.8},{"z":1.685,"s":40.9},{"z":1.685,"s":48},{"z":1.685,"s":56.4},{"z":1.685,"s":66.2},{"z":1.685,"s":77.8},{"z":1.685,"s":91.3},{"z":1.685,"s":107},{"z":1.685,"s":126},{"z":1.685,"s":148},{"z":1.685,"s":174},{"z":1.685,"s":204},
{"z":1.74,"s":44.3},{"z":1.74,"s":52},{"z":1.74,"s":61},{"z":1.74,"s":72},{"z":1.74,"s":84},{"z":1.74,"s":99},{"z":1.74,"s":116},{"z":1.74,"s":137},{"z":1.74,"s":160},{"z":1.74,"s":188},
{"z":1.795,"s":48},{"z":1.795,"s":56.4},{"z":1.795,"s":66.2},{"z":1.795,"s":77.8},{"z":1.795,"s":91.3},{"z":1.795,"s":107},{"z":1.795,"s":126},{"z":1.795,"s":148},{"z":1.795,"s":174},{"z":1.795,"s":204},
{"z":1.85,"s":52},{"z":1.85,"s":61},{"z":1.85,"s":72},{"z":1.85,"s":84},{"z":1.85,"s":99},{"z":1.85,"s":116},{"z":1.85,"s":137},{"z":1.85,"s":160},{"z":1.85,"s":188},{"z":1.85,"s":221},
{"z":1.905,"s":56.4},{"z":1.905,"s":66.2},{"z":1.905,"s":77.8},{"z":1.905,"s":91.3},{"z":1.905,"s":107},{"z":1.905,"s":126},{"z":1.905,"s":148},{"z":1.905,"s":174},{"z":1.905,"s":204},
{"z":1.96,"s":52},{"z":1.96,"s":61},{"z":1.96,"s":72},{"z":1.96,"s":84},{"z":1.96,"s":99},{"z":1.96,"s":116},{"z":1.96,"s":137},{"z":1.96,"s":160},{"z":1.96,"s":188},{"z":1.96,"s":221},
{"z":2.015,"s":56.4},{"z":2.015,"s":66.2},{"z":2.015,"s":77.8},{"z":2.015,"s":91.3},{"z":2.015,"s":107},{"z":2.015,"s":126},{"z":2.015,"s":148},{"z":2.015,"s":174},{"z":2.015,"s":204},{"z":2.015,"s":240},
{"z":2.07,"s":61},{"z":2.07,"s":72},{"z":2.07,"s":84},{"z":2.07,"s":99},{"z":2.07,"s":116},{"z":2.07,"s":137},{"z":2.07,"s":160},{"z":2.07,"s":188},{"z":2.07,"s":221},
{"z":2.125,"s":66.2},{"z":2.125,"s":77.8},{"z":2.125,"s":91.3},{"z":2.125,"s":107},{"z":2.125,"s":126},{"z":2.125,"s":148},{"z":2.125,"s":174},{"z":2.125,"s":204},{"z":2.125,"s":240},
{"z":2.18,"s":72},{"z":2.18,"s":84},{"z":2.18,"s":99},{"z":2.18,"s":116},{"z":2.18,"s":137},{"z":2.18,"s":160},{"z":2.18,"s":188},{"z":2.18,"s":221},{"z":2.18,"s":260},
{"z":2.235,"s":77.8},{"z":2.235,"s":91.3},{"z":2.235,"s":107},{"z":2.235,"s":126},{"z":2.235,"s":148},{"z":2.235,"s":174},{"z":2.235,"s":204},{"z":2.235,"s":240},{"z":2.235,"s":282},
{"z":2.29,"s":84},{"z":2.29,"s":99},{"z":2.29,"s":116},{"z":2.29,"s":137},{"z":2.29,"s":160},{"z":2.29,"s":188},{"z":2.29,"s":221},{"z":2.29,"s":260},{"z":2.29,"s":305},
{"z":2.345,"s":91.3},{"z":2.345,"s":107},{"z":2.345,"s":126},{"z":2.345,"s":148},{"z":2.345,"s":174},{"z":2.345,"s":204},{"z":2.345,"s":240},{"z":2.345,"s":282},{"z":2.345,"s":331},
{"z":2.4,"s":99},{"z":2.4,"s":116},{"z":2.4,"s":137},{"z":2.4,"s":160},{"z":2.4,"s":188},{"z":2.4,"s":221},{"z":2.4,"s":260},{"z":2.4,"s":305},
{"z":2.455,"s":107},{"z":2.455,"s":126},{"z":2.455,"s":148},{"z":2.455,"s":174},{"z":2.455,"s":204},{"z":2.455,"s":240},{"z":2.455,"s":282},{"z":2.455,"s":331},
{"z":2.51,"s":116},{"z":2.51,"s":137},{"z":2.51,"s":160},{"z":2.51,"s":188},{"z":2.51,"s":221},{"z":2.51,"s":260},{"z":2.51,"s":305},{"z":2.51,"s":358},
{"z":2.565,"s":126},{"z":2.565,"s":148},{"z":2.565,"s":174},{"z":2.565,"s":204},{"z":2.565,"s":240},{"z":2.565,"s":282},{"z":2.565,"s":331},{"z":2.565,"s":389},
{"z":2.62,"s":137},{"z":2.62,"s":160},{"z":2.62,"s":188},{"z":2.62,"s":221},{"z":2.62,"s":260},{"z":2.62,"s":305},{"z":2.62,"s":358},
{"z":2.675,"s":148},{"z":2.675,"s":174},{"z":2.675,"s":204},{"z":2.675,"s":240},{"z":2.675,"s":282},{"z":2.675,"s":331},{"z":2.675,"s":389},
{"z":2.73,"s":160},{"z":2.73,"s":188},{"z":2.73,"s":221},{"z":2.73,"s":260},{"z":2.73,"s":305},{"z":2.73,"s":358},{"z":2.73,"s":421},
{"z":2.785,"s":174},{"z":2.785,"s":204},{"z":2.785,"s":240},{"z":2.785,"s":282},{"z":2.785,"s":331},{"z":2.785,"s":389},{"z":2.785,"s":457},
{"z":2.84,"s":188},{"z":2.84,"s":221},{"z":2.84,"s":260},{"z":2.84,"s":305},{"z":2.84,"s":358},{"z":2.84,"s":421},{"z":2.84,"s":495},
{"z":2.895,"s":204},{"z":2.895,"s":240},{"z":2.895,"s":282},{"z":2.895,"s":331},{"z":2.895,"s":389},{"z":2.895,"s":457},
{"z":2.95,"s":221},{"z":2.95,"s":260},{"z":2.95,"s":305},{"z":2.95,"s":358},{"z":2.95,"s":421},
{"z":3.005,"s":240},{"z":3.005,"s":282},{"z":3.005,"s":331},{"z":3.005,"s":389},{"z":3.005,"s":457},
{"z":3.06,"s":260},{"z":3.06,"s":305},{"z":3.06,"s":358},{"z":3.06,"s":421},
{"z":2.6,"s":560},{"z":2.65,"s":640},{"z":2.72,"s":760},{"z":2.78,"s":700},{"z":2.85,"s":620},{"z":2.92,"s":560},{"z":2.98,"s":650},{"z":3.04,"s":560},{"z":3.12,"s":520},{"z":2.55,"s":470},{"z":2.42,"s":400},{"z":2.3,"s":380},{"z":2.18,"s":320},
{"z":1.54,"s":420},{"z":1.75,"s":1000},{"z":2.32,"s":1090},{"z":1.75,"s":355},{"z":1.8,"s":350},{"z":1.68,"s":340},{"z":1.85,"s":300},{"z":1.92,"s":340},{"z":2,"s":290},{"z":2.05,"s":330},{"z":2.1,"s":300},{"z":2.15,"s":420},{"z":2.22,"s":400},{"z":2.28,"s":620},{"z":2.25,"s":700},{"z":2.3,"s":530},{"z":2.38,"s":560},{"z":2.42,"s":650},{"z":2.5,"s":500},{"z":2.55,"s":620},{"z":2.6,"s":700},{"z":2.65,"s":520},{"z":2.7,"s":600},{"z":2.72,"s":480},{"z":2.78,"s":560},{"z":2.82,"s":500},{"z":2.88,"s":540},{"z":2.92,"s":470},{"z":2.98,"s":480},{"z":3.02,"s":520},{"z":3.08,"s":620},{"z":3.1,"s":400},{"z":3.15,"s":450},{"z":3.15,"s":340},{"z":3.18,"s":560},{"z":3.22,"s":420},{"z":3.22,"s":300},{"z":3.26,"s":480},{"z":3.3,"s":380},{"z":3.12,"s":280},{"z":3.14,"s":220},{"z":3.18,"s":260},{"z":3.25,"s":330},{"z":3.05,"s":200},{"z":3.1,"s":180},{"z":2.98,"s":170},{"z":2.9,"s":150},{"z":2.85,"s":130},{"z":2.78,"s":115},{"z":2.7,"s":100},{"z":2.62,"s":85},{"z":2.55,"s":75},{"z":2.48,"s":80},{"z":2.42,"s":55},{"z":1.5,"s":200},{"z":1.45,"s":190},{"z":1.35,"s":160},{"z":1.25,"s":140},{"z":1.6,"s":210},{"z":1.7,"s":240},{"z":1.8,"s":260},{"z":1.4,"s":180},{"z":1.55,"s":250},{"z":1.62,"s":270},{"z":1.9,"s":260},{"z":1.95,"s":250},{"z":2.2,"s":330},{"z":2.4,"s":360},
{"z":2.17,"s":26},{"z":2.33,"s":35},{"z":2.43,"s":37},{"z":1.89,"s":22},{"z":1.83,"s":22},{"z":1.77,"s":19},{"z":1.66,"s":22},{"z":1.6,"s":22},{"z":2.05,"s":27.5},{"z":1.98,"s":28},{"z":1.92,"s":28},{"z":1.84,"s":29},{"z":1.74,"s":30.5},{"z":1.88,"s":52},{"z":1.88,"s":42},{"z":1.92,"s":35},{"z":1.785,"s":37},{"z":2.21,"s":48},{"z":2.29,"s":46},{"z":2.19,"s":43},{"z":2.155,"s":36},{"z":2.07,"s":34},{"z":2,"s":33},{"z":2.41,"s":59},{"z":2.42,"s":68},{"z":2.56,"s":62},{"z":2.51,"s":77},{"z":2.28,"s":74},{"z":2.4,"s":65},{"z":2.235,"s":87},{"z":2.535,"s":102},{"z":2.57,"s":49},{"z":2.57,"s":45},{"z":1.555,"s":18},{"z":1.46,"s":17.5},{"z":1.59,"s":20},{"z":1.4,"s":16.6},{"z":1.43,"s":11.7},{"z":1.485,"s":13.2},{"z":1.31,"s":13.2},{"z":1.265,"s":17},{"z":1.17,"s":12.2},{"z":1.23,"s":12.6},{"z":1.185,"s":10},{"z":1.08,"s":10.7},{"z":1.38,"s":15.7},{"z":1.565,"s":16.2},
{"z":3.115,"s":1370},{"z":3.27,"s":1440},{"z":3.34,"s":1270},{"z":3.42,"s":1230},{"z":2.96,"s":1490},{"z":2.86,"s":1220},{"z":2.67,"s":1190},{"z":3.3,"s":1070},{"z":3.34,"s":1120},{"z":3.44,"s":935},{"z":2.72,"s":815},{"z":2.78,"s":825},{"z":3.09,"s":830},{"z":3.14,"s":860},{"z":3.37,"s":706},{"z":3.105,"s":706},{"z":3.435,"s":630},{"z":3.465,"s":603},{"z":3.445,"s":525},{"z":3.29,"s":516},{"z":3.24,"s":530},{"z":3.475,"s":447},{"z":3.32,"s":437},{"z":3.46,"s":380},{"z":3.35,"s":363},{"z":3.54,"s":331},{"z":3.42,"s":316},{"z":3.31,"s":309},{"z":3.475,"s":272},{"z":3.2,"s":363},{"z":3.25,"s":269},{"z":3.285,"s":251},{"z":3.31,"s":233},{"z":3.21,"s":207},{"z":3.33,"s":184},{"z":3.19,"s":146},{"z":3.25,"s":149},{"z":3.4,"s":141},{"z":3.33,"s":135},{"z":3.3,"s":119},{"z":3.3,"s":107},{"z":3.42,"s":106},{"z":3.15,"s":107},{"z":3.04,"s":126},{"z":3,"s":138},{"z":3.06,"s":97},{"z":3.18,"s":86},{"z":3.25,"s":85},{"z":2.975,"s":85},{"z":2.88,"s":81},{"z":2.99,"s":105},{"z":2.92,"s":105},{"z":3.29,"s":63},{"z":3.245,"s":53},{"z":3.06,"s":56},{"z":2.86,"s":55},{"z":2.76,"s":57},{"z":2.81,"s":66},{"z":2.88,"s":68},{"z":2.67,"s":46},{"z":2.82,"s":162},{"z":2.92,"s":162},{"z":2.72,"s":120},{"z":2.66,"s":108},{"z":2.6,"s":90},
{"z":4.64,"s":3350},{"z":4.83,"s":2950},{"z":5.18,"s":3350},{"z":4.04,"s":2210},{"z":4.38,"s":2500},{"z":4.45,"s":2310},{"z":4.4,"s":2030},{"z":4.52,"s":2090},{"z":4.56,"s":2240},{"z":4.6,"s":2330},{"z":4.62,"s":2000},{"z":5.22,"s":2360},{"z":5.36,"s":1960},{"z":3.93,"s":1790},{"z":3.96,"s":1530},{"z":4.23,"s":1720},{"z":4.28,"s":1770},{"z":4.325,"s":1630},{"z":4.37,"s":1670},{"z":4.665,"s":1650},{"z":4.73,"s":1640},{"z":4.8,"s":1580},{"z":4.475,"s":1530},{"z":4.48,"s":1380},{"z":5.14,"s":1570},{"z":5.535,"s":1360},{"z":4.265,"s":1250},{"z":4.8,"s":1300},{"z":4.625,"s":1140},{"z":4.27,"s":1030},{"z":4.22,"s":975},{"z":3.89,"s":1230},{"z":3.805,"s":1240},{"z":3.745,"s":1120},{"z":4.7,"s":811},{"z":5.64,"s":822},{"z":5.65,"s":650},{"z":5.11,"s":658},{"z":5.17,"s":658},{"z":4.235,"s":684},{"z":4.54,"s":698},{"z":4.665,"s":621},{"z":4.64,"s":514},{"z":4.33,"s":538},{"z":4.28,"s":479},{"z":4.12,"s":556},{"z":4,"s":603},{"z":4,"s":901},{"z":3.86,"s":677},{"z":3.84,"s":608},{"z":3.68,"s":479},{"z":3.7,"s":479},{"z":4.035,"s":303},{"z":4.18,"s":240},{"z":4.46,"s":211},{"z":4.74,"s":188},{"z":5.37,"s":204},{"z":3.82,"s":209},{"z":4.3,"s":155},{"z":3.83,"s":133},{"z":3.71,"s":150},{"z":4.27,"s":111},{"z":3.59,"s":93},{"z":3.57,"s":79}
],"red":[
{"z":0.48,"s":113},{"z":0.72,"s":107},{"z":0.76,"s":129},{"z":0.8,"s":112},{"z":0.85,"s":158},{"z":0.86,"s":135},{"z":0.89,"s":251},{"z":0.94,"s":248},{"z":0.95,"s":343},{"z":1.02,"s":229},{"z":1.09,"s":189},{"z":0.98,"s":178},{"z":0.92,"s":124},{"z":0.99,"s":132},{"z":1.05,"s":105},{"z":1.09,"s":145},{"z":1.16,"s":151},{"z":1.17,"s":347},{"z":1.23,"s":331},{"z":1.27,"s":282},{"z":1.32,"s":248},{"z":1.23,"s":248},{"z":1.185,"s":209},{"z":1.2,"s":186},{"z":1.22,"s":162},{"z":1.16,"s":103},{"z":1.24,"s":100},{"z":1.31,"s":107},{"z":1.36,"s":107},{"z":1.27,"s":146},{"z":1.335,"s":170},{"z":1.36,"s":124},{"z":1.4,"s":339},{"z":1.45,"s":331},{"z":1.455,"s":407},{"z":1.5,"s":741},{"z":1.6,"s":610},{"z":1.62,"s":537},{"z":1.635,"s":479},{"z":1.62,"s":398},{"z":1.68,"s":427},{"z":1.56,"s":324},{"z":1.5,"s":263},{"z":1.44,"s":209},{"z":1.45,"s":170},{"z":1.51,"s":146},{"z":1.45,"s":124},{"z":1.53,"s":105},{"z":1.555,"s":100},{"z":1.61,"s":126},{"z":1.665,"s":102},{"z":1.76,"s":112},{"z":1.83,"s":107},{"z":1.91,"s":112},{"z":1.935,"s":124},{"z":1.935,"s":162},{"z":1.84,"s":186},{"z":1.73,"s":157},{"z":1.66,"s":151},{"z":1.59,"s":162},{"z":1.7,"s":129},{"z":1.6,"s":219},{"z":1.68,"s":305},{"z":1.76,"s":299},{"z":1.61,"s":251},{"z":1.69,"s":219},{"z":1.77,"s":238},{"z":1.865,"s":229},{"z":1.91,"s":275},{"z":2.03,"s":272},{"z":1.99,"s":224},{"z":1.87,"s":339},{"z":1.96,"s":355},{"z":2.015,"s":324},{"z":1.82,"s":447},{"z":1.91,"s":398},{"z":1.97,"s":457},{"z":1.8,"s":484},{"z":1.73,"s":562},{"z":1.785,"s":585},{"z":1.835,"s":794},{"z":1.89,"s":624},{"z":1.98,"s":708},{"z":1.99,"s":575},{"z":2.03,"s":912},{"z":2.03,"s":513},{"z":2.115,"s":575},{"z":2.155,"s":610},{"z":2.06,"s":447},{"z":2.11,"s":407},{"z":2.18,"s":363},{"z":2.14,"s":316},{"z":2.1,"s":248},{"z":2.155,"s":229},{"z":2.22,"s":248},{"z":2.28,"s":263},{"z":2.21,"s":189},{"z":2.03,"s":174},{"z":2.09,"s":172},{"z":2.06,"s":133},{"z":2.18,"s":138},{"z":2.33,"s":178},{"z":2.37,"s":186},{"z":2.36,"s":240},{"z":2.45,"s":219},{"z":2.55,"s":263},{"z":2.51,"s":575},{"z":2.47,"s":684},{"z":2.34,"s":684},{"z":2.27,"s":646},{"z":2.29,"s":813},{"z":2.39,"s":977},{"z":2.305,"s":501},{"z":2.37,"s":479},{"z":2.28,"s":447},{"z":2.43,"s":407},{"z":2.35,"s":380},{"z":2.235,"s":339},{"z":2.55,"s":417},{"z":1.96,"s":257},{"z":1.36,"s":209},{"z":1.5,"s":197},
{"z":2.93,"s":1514},{"z":2.88,"s":955},{"z":3.05,"s":977},{"z":3.15,"s":1096},{"z":3.255,"s":946},{"z":3.25,"s":741},{"z":3.175,"s":698},{"z":3.03,"s":776},{"z":2.97,"s":828},{"z":2.89,"s":818},{"z":2.68,"s":676},{"z":2.61,"s":585},{"z":2.715,"s":569},{"z":2.77,"s":525},{"z":2.81,"s":556},{"z":2.96,"s":585},{"z":3.03,"s":610},{"z":3,"s":569},{"z":3.09,"s":479},{"z":2.61,"s":484},{"z":2.65,"s":417},{"z":2.675,"s":407},{"z":2.75,"s":377},{"z":3.02,"s":284},{"z":2.57,"s":263},{"z":2.82,"s":141},{"z":3.535,"s":550},{"z":3.79,"s":1096},{"z":3.96,"s":935},{"z":3.81,"s":863},{"z":3.81,"s":741},
{"z":0.75,"s":118},{"z":0.82,"s":125},{"z":0.88,"s":115},{"z":0.9,"s":145},{"z":0.95,"s":110},{"z":1,"s":118},{"z":1.02,"s":150},{"z":1.06,"s":125},{"z":1.1,"s":115},{"z":1.12,"s":135},{"z":1.14,"s":170},{"z":1.18,"s":125},{"z":1.2,"s":112},{"z":1.22,"s":140},{"z":1.26,"s":120},{"z":1.29,"s":130},{"z":1.3,"s":195},{"z":1.33,"s":150},{"z":1.38,"s":145},{"z":1.4,"s":185},{"z":1.42,"s":230},{"z":1.4,"s":110},{"z":1.47,"s":150},{"z":1.48,"s":280},{"z":1.5,"s":120},{"z":1.54,"s":135},{"z":1.55,"s":180},{"z":1.55,"s":235},{"z":1.58,"s":290},{"z":1.58,"s":115},{"z":1.64,"s":185},{"z":1.65,"s":140},{"z":1.65,"s":265},{"z":1.7,"s":110},{"z":1.72,"s":180},{"z":1.72,"s":245},{"z":1.75,"s":135},{"z":1.78,"s":200},{"z":1.78,"s":330},{"z":1.8,"s":150},{"z":1.82,"s":120},{"z":1.85,"s":250},{"z":1.88,"s":175},{"z":1.9,"s":140},{"z":1.92,"s":210},{"z":1.95,"s":300},{"z":1.98,"s":190},{"z":2,"s":145},{"z":2.02,"s":235},{"z":2.08,"s":210},{"z":2.12,"s":280},{"z":2.16,"s":190},{"z":2.2,"s":300},{"z":2.25,"s":220},{"z":2.3,"s":340},{"z":2.32,"s":290},{"z":2.4,"s":250},{"z":2.42,"s":320},{"z":2.48,"s":300},{"z":2.6,"s":320},{"z":2.7,"s":300},{"z":1.25,"s":215},{"z":1.3,"s":280},{"z":1.18,"s":270},{"z":1.1,"s":240},{"z":1.05,"s":200},{"z":1.35,"s":260},{"z":1.42,"s":300},{"z":1.52,"s":380},{"z":1.58,"s":430},{"z":1.72,"s":380},{"z":1.88,"s":440},{"z":1.92,"s":520},{"z":2.02,"s":400},{"z":2.2,"s":480},{"z":2.4,"s":560},{"z":2.45,"s":470},{"z":2.6,"s":700}
]},
"layer":[
{"mark":{"type":"circle","size":280,"opacity":1,"clip":true},"data":{"name":"gray"},"encoding":{"x":{"field":"z","type":"quantitative","scale":{"domain":[0,6],"nice":false,"zero":false},"axis":{"orient":"bottom","values":[0,1,2,3,4,5,6],"grid":true,"gridColor":"#b0b0b0","gridWidth":2.2,"tickSize":15,"tickWidth":2.8,"labelFontSize":38,"labelPadding":15,"labelFlush":false,"domain":true,"domainColor":"#000","domainWidth":3,"title":"z","titleFontStyle":"italic","titleFontWeight":"normal","titleFontSize":64,"titlePadding":20,"format":"d"}},"y":{"field":"s","type":"quantitative","scale":{"type":"log","domain":[0.1,4000],"nice":false},"axis":{"orient":"left","values":[0.2,0.3,0.4,0.5,0.6,0.7,0.8,0.9,2,3,4,5,6,7,8,9,20,30,40,50,60,70,80,90,200,300,400,500,600,700,800,900,2000,3000,4000],"grid":true,"gridColor":"#ebebeb","gridWidth":2.6,"tickSize":8,"tickWidth":2,"labels":false,"title":"SFR","titleFontStyle":"italic","titleFontWeight":"normal","titleFontSize":69,"titleX":-145,"titleY":577,"titleAngle":-90,"titleAlign":"center"}},"color":{"datum":"3 GHz Catalog","type":"nominal","scale":{"domain":["3 GHz Catalog","Clean SFG sample","HSFG sample"],"range":["#7f7f7f","#1f77b4","#d62728"]},"legend":{"orient":"none","legendX":516,"legendY":552,"title":null,"zindex":1,"fillColor":"rgba(255,255,255,0.8)","strokeColor":"#d2d2d2","cornerRadius":10,"padding":28,"rowPadding":33,"labelFontSize":66.5,"labelLimit":800,"labelFont":"DejaVu Sans","labelColor":"#000","symbolSize":280,"symbolType":"circle","symbolStrokeWidth":0,"symbolOffset":34,"labelOffset":84,"symbolOpacity":1}}}},
{"mark":{"type":"circle","size":280,"opacity":1},"data":{"name":"blue"},"encoding":{"x":{"field":"z","type":"quantitative","axis":{"orient":"top","values":[],"grid":false,"ticks":false,"labels":false,"title":null,"domain":true,"domainColor":"#000","domainWidth":3}},"y":{"field":"s","type":"quantitative","axis":{"orient":"left","values":[0.1,1,10,100,1000],"grid":true,"gridColor":"#b0b0b0","gridWidth":2.2,"tickSize":15,"tickWidth":2.8,"labelFontSize":41,"labelPadding":16,"domain":true,"domainColor":"#000","domainWidth":3,"labelExpr":"datum.value==0.1?'10⁻¹':datum.value==1?'10⁰':datum.value==10?'10¹':datum.value==100?'10²':'10³'","title":"[M⊙/yr]","titleFontWeight":"normal","titleFontSize":64,"titleX":-145,"titleY":382,"titleAngle":-90,"titleAlign":"center"}},"color":{"datum":"Clean SFG sample","type":"nominal"}}},
{"mark":{"type":"circle","size":280,"opacity":1},"data":{"name":"red"},"encoding":{"x":{"field":"z","type":"quantitative","axis":null},"y":{"field":"s","type":"quantitative","axis":{"orient":"right","values":[],"grid":false,"ticks":false,"labels":false,"title":null,"domain":true,"domainColor":"#000","domainWidth":3}},"color":{"datum":"HSFG sample","type":"nominal"}}}
]}
